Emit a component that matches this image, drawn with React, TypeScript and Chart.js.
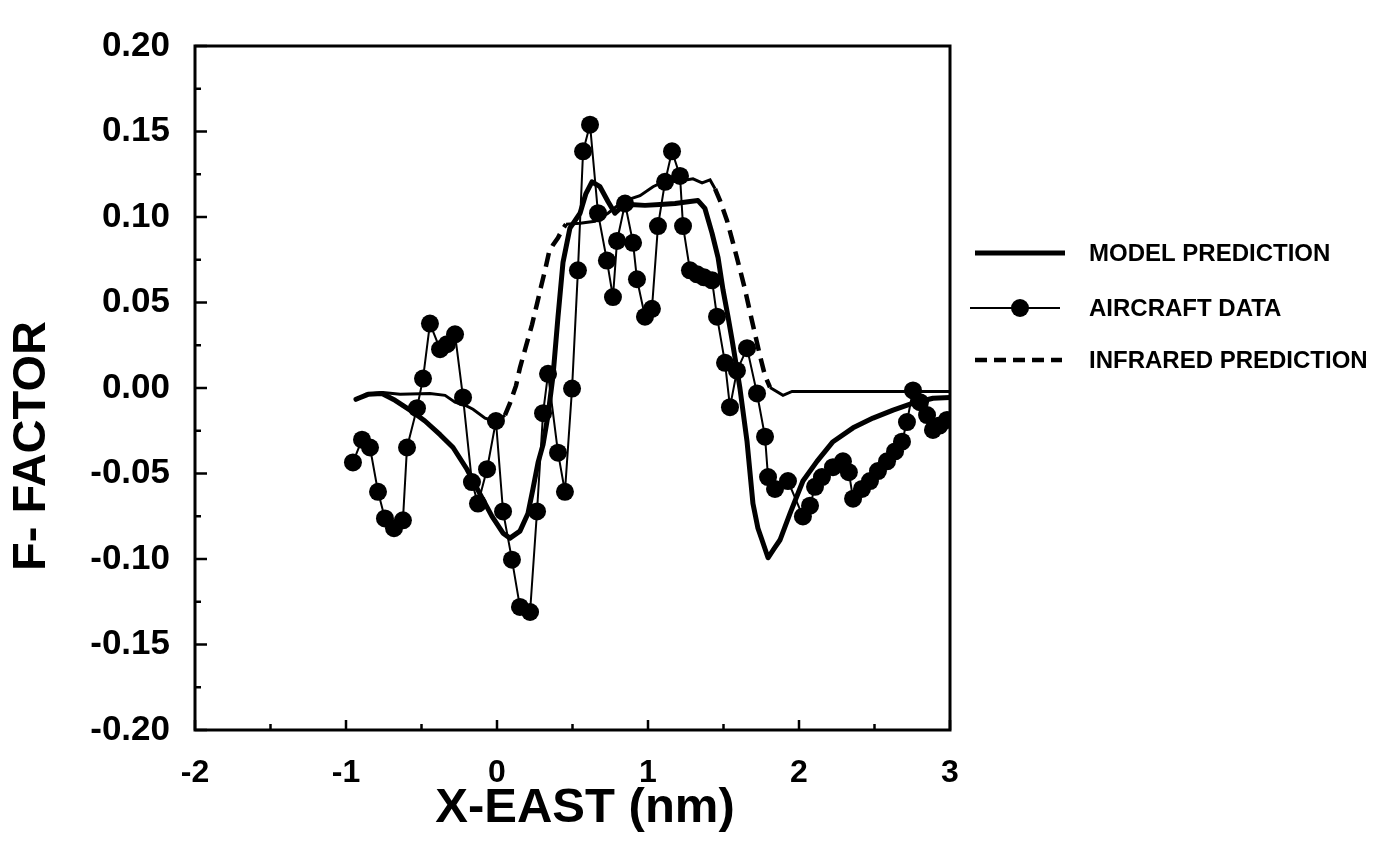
import React, { useEffect, useRef } from "react";
import { Chart, registerables } from "chart.js";

Chart.register(...registerables);

// ---- Data ----
const modelX = [-0.934, -0.854, -0.762, -0.675, -0.576, -0.477, -0.377, -0.291, -0.199, -0.113, -0.033, 0.04, 0.086, 0.152, 0.205, 0.238, 0.272, 0.305, 0.338, 0.371, 0.404, 0.437, 0.483, 0.55, 0.589, 0.629, 0.682, 0.735, 0.781, 0.815, 0.881, 0.98, 1.079, 1.179, 1.278, 1.331, 1.377, 1.424, 1.464, 1.497, 1.53, 1.556, 1.583, 1.609, 1.656, 1.695, 1.728, 1.755, 1.795, 1.834, 1.874, 1.94, 2.026, 2.119, 2.225, 2.358, 2.49, 2.623, 2.755, 2.887, 3.0];
const modelY = [-0.0066, -0.0037, -0.0032, -0.0072, -0.0129, -0.0193, -0.0273, -0.0348, -0.0475, -0.0619, -0.0751, -0.0849, -0.0878, -0.0837, -0.0734, -0.059, -0.0435, -0.0331, -0.0158, 0.0072, 0.0417, 0.0734, 0.0935, 0.1022, 0.1137, 0.1206, 0.1177, 0.1091, 0.1022, 0.105, 0.1073, 0.1068, 0.1073, 0.1079, 0.1091, 0.1096, 0.105, 0.0906, 0.0763, 0.0573, 0.0417, 0.0285, 0.0141, -0.0003, -0.0314, -0.0676, -0.082, -0.0889, -0.0993, -0.0941, -0.0889, -0.0734, -0.0544, -0.0429, -0.0314, -0.0233, -0.0176, -0.0129, -0.0089, -0.006, -0.0055];

const aircraftX = [-0.954, -0.894, -0.841, -0.788, -0.742, -0.682, -0.623, -0.596, -0.53, -0.49, -0.444, -0.377, -0.331, -0.278, -0.225, -0.166, -0.126, -0.066, -0.007, 0.04, 0.099, 0.152, 0.219, 0.265, 0.305, 0.338, 0.404, 0.45, 0.497, 0.536, 0.57, 0.616, 0.669, 0.728, 0.768, 0.795, 0.848, 0.901, 0.927, 0.98, 1.026, 1.066, 1.113, 1.159, 1.212, 1.232, 1.278, 1.325, 1.371, 1.424, 1.457, 1.51, 1.543, 1.589, 1.656, 1.722, 1.775, 1.795, 1.841, 1.927, 2.026, 2.073, 2.106, 2.152, 2.225, 2.291, 2.33, 2.358, 2.417, 2.47, 2.523, 2.583, 2.636, 2.682, 2.715, 2.755, 2.801, 2.848, 2.887, 2.93, 2.98];
const aircraftY = [-0.0435, -0.0302, -0.0348, -0.0607, -0.0763, -0.082, -0.0774, -0.0348, -0.0118, 0.0055, 0.0377, 0.0227, 0.0256, 0.0314, -0.0055, -0.055, -0.0676, -0.0475, -0.0193, -0.0722, -0.1004, -0.128, -0.131, -0.0722, -0.0147, 0.0083, -0.0378, -0.0607, -0.0003, 0.0688, 0.1384, 0.154, 0.1022, 0.0745, 0.0532, 0.086, 0.1079, 0.0849, 0.0636, 0.0417, 0.0463, 0.0947, 0.1206, 0.1384, 0.124, 0.0947, 0.0688, 0.0665, 0.0647, 0.063, 0.0417, 0.0147, -0.0112, 0.0101, 0.0233, -0.0032, -0.0285, -0.0521, -0.059, -0.0544, -0.0751, -0.0688, -0.0578, -0.0521, -0.0463, -0.0429, -0.0492, -0.0647, -0.059, -0.0544, -0.0486, -0.0429, -0.0371, -0.0314, -0.0199, -0.0014, -0.0083, -0.0158, -0.0245, -0.022, -0.0187];

const infraredX = [-0.934, -0.868, -0.755, -0.642, -0.444, -0.344, -0.278, -0.212, -0.159, -0.079, 0.0, 0.053, 0.086, 0.126, 0.152, 0.192, 0.232, 0.265, 0.291, 0.318, 0.344, 0.371, 0.404, 0.43, 0.457, 0.55, 0.649, 0.735, 0.834, 0.947, 1.033, 1.113, 1.212, 1.298, 1.358, 1.411, 1.444, 1.477, 1.523, 1.563, 1.609, 1.642, 1.675, 1.709, 1.742, 1.775, 1.808, 1.894, 1.954, 2.338, 3.0];
const infraredY = [-0.0072, -0.0037, -0.0026, -0.0037, -0.0032, -0.0043, -0.0083, -0.0101, -0.0124, -0.0176, -0.0199, -0.0158, -0.0089, 0.0014, 0.0118, 0.0245, 0.0371, 0.0492, 0.059, 0.0688, 0.0791, 0.0837, 0.0878, 0.0923, 0.0958, 0.0964, 0.0975, 0.1022, 0.1091, 0.1125, 0.1177, 0.1211, 0.1211, 0.1223, 0.12, 0.1217, 0.1165, 0.1096, 0.098, 0.0849, 0.0693, 0.0578, 0.0446, 0.0314, 0.0187, 0.0072, 0.0003, -0.0043, -0.002, -0.002, -0.002];

const seriesNames = ["MODEL PREDICTION", "AIRCRAFT DATA", "INFRARED PREDICTION"];
const xTitle = "X-EAST (nm)";
const yTitle = "F- FACTOR";
const xMajorTicks = [-2, -1, 0, 1, 2, 3];
const xMinorTicks = [-1.5, -0.5, 0.5, 1.5, 2.5];
const yMajorTicks = [-0.2, -0.15, -0.1, -0.05, 0, 0.05, 0.1, 0.15, 0.2];
const yMinorTicks = [-0.175, -0.125, -0.075, -0.025, 0.025, 0.075, 0.125, 0.175];

const FONT = "'Liberation Sans', Arial, Helvetica, sans-serif";

const toPoints = (xs: number[], ys: number[]) => xs.map((x, i) => ({ x, y: ys[i] }));

const isDashed = (x0: number, x1: number) =>
  (x0 >= 0.05 && x1 <= 0.47) || (x0 >= 1.44 && x1 <= 1.81);

const decorPlugin = {
  id: "decor",
  afterDraw(chart: any) {
    const { ctx, chartArea: a, scales } = chart;
    const xs = scales.x;
    const ys = scales.y;
    ctx.save();
    ctx.strokeStyle = "#000";
    ctx.fillStyle = "#000";
    // frame
    ctx.lineWidth = 3;
    ctx.strokeRect(a.left, a.top, a.right - a.left, a.bottom - a.top);
    // inward ticks
    ctx.lineWidth = 2.5;
    const yTick = (v: number, len: number) => {
      const py = ys.getPixelForValue(v);
      ctx.beginPath();
      ctx.moveTo(a.left, py);
      ctx.lineTo(a.left + len, py);
      ctx.stroke();
    };
    const xTick = (v: number, len: number) => {
      const px = xs.getPixelForValue(v);
      ctx.beginPath();
      ctx.moveTo(px, a.bottom);
      ctx.lineTo(px, a.bottom - len);
      ctx.stroke();
    };
    yMajorTicks.forEach((v) => yTick(v, 12));
    yMinorTicks.forEach((v) => yTick(v, 6));
    xMajorTicks.forEach((v) => xTick(v, 10));
    xMinorTicks.forEach((v) => xTick(v, 6));

    // axis titles
    ctx.textAlign = "center";
    ctx.textBaseline = "middle";
    ctx.font = `bold 49px ${FONT}`;
    ctx.fillText(xTitle, 585, 808);
    ctx.save();
    ctx.translate(32, 446);
    ctx.rotate(-Math.PI / 2);
    ctx.font = `bold 47px ${FONT}`;
    ctx.fillText(yTitle, 0, 0);
    ctx.restore();

    // legend
    const rows = [253, 308, 360];
    const ds = chart.data.datasets;
    ctx.textAlign = "left";
    ctx.font = `bold 24px ${FONT}`;
    rows.forEach((ry, i) => {
      const d = ds[i];
      ctx.save();
      ctx.strokeStyle = "#000";
      if (i === 0) {
        ctx.lineWidth = d.borderWidth;
        ctx.beginPath();
        ctx.moveTo(975, ry);
        ctx.lineTo(1065, ry);
        ctx.stroke();
      } else if (i === 1) {
        ctx.lineWidth = d.borderWidth;
        ctx.beginPath();
        ctx.moveTo(970, ry);
        ctx.lineTo(1060, ry);
        ctx.stroke();
        ctx.beginPath();
        ctx.arc(1020, ry, d.pointRadius, 0, Math.PI * 2);
        ctx.fill();
      } else {
        ctx.lineWidth = 4.5;
        ctx.setLineDash([12, 7]);
        ctx.beginPath();
        ctx.moveTo(975, ry);
        ctx.lineTo(1062, ry);
        ctx.stroke();
      }
      ctx.restore();
      ctx.fillText(d.label, 1089, ry + 1);
    });
    ctx.restore();
  },
};

export default function App() {
  const ref = useRef<HTMLCanvasElement | null>(null);
  useEffect(() => {
    if (!ref.current) return;
    const chart = new Chart(ref.current, {
      type: "scatter",
      data: {
        datasets: [
          {
            label: seriesNames[0],
            data: toPoints(modelX, modelY),
            showLine: true,
            borderColor: "#000",
            backgroundColor: "#000",
            borderWidth: 5,
            pointRadius: 0,
            borderJoinStyle: "round",
            borderCapStyle: "round",
          },
          {
            label: seriesNames[1],
            data: toPoints(aircraftX, aircraftY),
            showLine: true,
            borderColor: "#000",
            backgroundColor: "#000",
            borderWidth: 2,
            pointRadius: 9,
            pointBackgroundColor: "#000",
            pointBorderColor: "#000",
            pointBorderWidth: 0,
          },
          {
            label: seriesNames[2],
            data: toPoints(infraredX, infraredY),
            showLine: true,
            borderColor: "#000",
            backgroundColor: "#000",
            borderWidth: 3,
            pointRadius: 0,
            segment: {
              borderDash: (c: any) => (isDashed(c.p0.parsed.x, c.p1.parsed.x) ? [14, 8] : undefined),
              borderWidth: (c: any) => (isDashed(c.p0.parsed.x, c.p1.parsed.x) ? 4.5 : undefined),
            },
          },
        ],
      },
      options: {
        responsive: false,
        animation: false,
        events: [],
        layout: { padding: { top: 35, right: 438, left: 0, bottom: 0 } },
        plugins: { legend: { display: false }, tooltip: { enabled: false }, title: { display: false } },
        scales: {
          x: {
            type: "linear",
            min: -2,
            max: 3,
            afterFit: (s: any) => {
              s.height = 122;
            },
            grid: { display: false, drawTicks: false },
            border: { display: false },
            ticks: {
              stepSize: 1,
              padding: 24,
              color: "#000",
              font: { family: FONT, weight: "bold", size: 32 },
              callback: (v: any) => String(v),
            },
          },
          y: {
            type: "linear",
            min: -0.2,
            max: 0.2,
            afterFit: (s: any) => {
              s.width = 195;
            },
            grid: { display: false, drawTicks: false },
            border: { display: false },
            ticks: {
              stepSize: 0.05,
              padding: 25,
              color: "#000",
              font: { family: FONT, weight: "bold", size: 35 },
              callback: (v: any) => {
                const n = Math.abs(Number(v)) < 1e-9 ? 0 : Number(v);
                return n.toFixed(2);
              },
            },
          },
        },
      },
      plugins: [decorPlugin],
    } as any);
    return () => chart.destroy();
  }, []);
  return (
    <div style={{ position: "fixed", left: 0, top: 0, width: 1388, height: 852, background: "#fff" }}>
      <canvas ref={ref} width={1388} height={852} style={{ display: "block" }} />
    </div>
  );
}
